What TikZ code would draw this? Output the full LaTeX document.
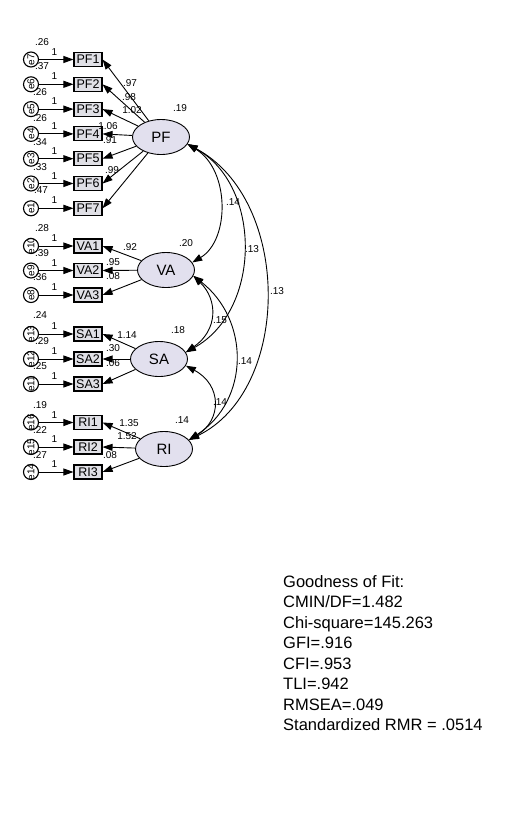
\documentclass[tikz,border=0pt]{standalone}
\usepackage{fontspec}
\setmainfont{Liberation Sans}
\usetikzlibrary{arrows.meta,shapes.geometric}
\definecolor{latfill}{RGB}{226,224,238}
\definecolor{obsfill}{RGB}{224,224,230}
\tikzset{
	obsbox/.style={draw, line width=1.1pt, fill=obsfill, minimum width=28pt, minimum height=14pt, inner sep=0pt, font=\fontsize{12.5}{12.5}\selectfont},
	latent/.style={draw, line width=0.9pt, ellipse, fill=latfill, minimum width=57pt, minimum height=35pt, inner sep=0pt, font=\fontsize{15}{15}\selectfont},
	errc/.style={draw, line width=1.1pt, circle, fill=white, minimum size=15pt, inner sep=0pt, label={[rotate=90, font=\fontsize{10}{10}\selectfont, inner sep=0pt]center:#1}},
	est/.style={font=\fontsize{10}{10}\selectfont, inner sep=0pt},
	load/.style={-{Triangle[length=10pt,width=7pt]}, line width=0.9pt},
	cov/.style={{Triangle[length=10pt,width=7pt]}-{Triangle[length=10pt,width=7pt]}, line width=0.9pt}
}
\begin{document}
\begin{tikzpicture}[x=1pt,y=-1pt]
	\useasboundingbox (0,0) rectangle (508,831);
	% latent factors
	\node[latent] (PF) at (161,137) {PF};
	\node[latent] (VA) at (166,270) {VA};
	\node[latent] (SA) at (159,359) {SA};
	\node[latent] (RI) at (164,449) {RI};
	% indicators with their errors
	\foreach \i/\y/\e in {1/59.5/7, 2/84.3/6, 3/109.1/5, 4/133.9/4, 5/158.7/3, 6/183.5/2, 7/208.3/1} {
		\node[obsbox] (PF\i) at (88,\y) {PF\i};
		\node[errc=e\e] (e\e) at (31,\y) {};
		\draw[load] (e\e) -- (PF\i.west) node[est, pos=0.45, above=4pt] {1};
		\draw[load] (PF) -- (PF\i.east);
	}
	\foreach \i/\y/\e in {1/246/10, 2/270.5/9, 3/295/8} {
		\node[obsbox] (VA\i) at (88,\y) {VA\i};
		\node[errc=e\e] (e\e) at (31,\y) {};
		\draw[load] (e\e) -- (VA\i.west) node[est, pos=0.45, above=4pt] {1};
		\draw[load] (VA) -- (VA\i.east);
	}
	\foreach \i/\y/\e in {1/334/13, 2/359/12, 3/384/11} {
		\node[obsbox] (SA\i) at (88,\y) {SA\i};
		\node[errc=e\e] (e\e) at (31,\y) {};
		\draw[load] (e\e) -- (SA\i.west) node[est, pos=0.45, above=4pt] {1};
		\draw[load] (SA) -- (SA\i.east);
	}
	\foreach \i/\y/\e in {1/422.5/16, 2/447/15, 3/472/14} {
		\node[obsbox] (RI\i) at (88,\y) {RI\i};
		\node[errc=e\e] (e\e) at (31,\y) {};
		\draw[load] (e\e) -- (RI\i.west) node[est, pos=0.45, above=4pt] {1};
		\draw[load] (RI) -- (RI\i.east);
	}
	% covariances
	\draw[cov] (PF.-15) .. controls (230,170) and (230,240) .. (VA.16);
	\draw[cov] (PF.-15) .. controls (262,185) and (262,310) .. (SA.14);
	\draw[cov] (PF.-15) .. controls (292,200) and (292,390) .. (RI.20);
	\draw[cov] (VA.-12) .. controls (218,300) and (218,330) .. (SA.14);
	\draw[cov] (VA.-12) .. controls (250,320) and (250,400) .. (RI.20);
	\draw[cov] (SA.-14) .. controls (222,385) and (222,420) .. (RI.20);
	% estimates
	\node[est] at (180,108) {.19};
	\node[est] at (186,243) {.20};
	\node[est] at (178,330) {.18};
	\node[est] at (182,420) {.14};
	\node[est] at (233,202) {.14};
	\node[est] at (252,249) {.13};
	\node[est] at (277,291) {.13};
	\node[est] at (220,320) {.15};
	\node[est] at (245,361) {.14};
	\node[est] at (220,402) {.14};
	\node[est] at (130,83) {.97};
	\node[est] at (129,97) {.98};
	\node[est] at (132,110) {1.02};
	\node[est] at (108,126) {1.06};
	\node[est] at (110,140) {.91};
	\node[est] at (112,170) {.99};
	\node[est] at (130,247) {.92};
	\node[est] at (113,262) {.95};
	\node[est] at (113,276) {.08};
	\node[est] at (127,335) {1.14};
	\node[est] at (113,348) {.30};
	\node[est] at (113,363) {.06};
	\node[est] at (129,423) {1.35};
	\node[est] at (127,436) {1.52};
	\node[est] at (110,455) {.08};
	\node[est] at (42,42) {.26};
	\node[est] at (42,66) {.37};
	\node[est] at (40,92) {.26};
	\node[est] at (40,118) {.26};
	\node[est] at (40,142) {.34};
	\node[est] at (40,167) {.33};
	\node[est] at (41,190) {.47};
	\node[est] at (42,228) {.28};
	\node[est] at (42,253) {.39};
	\node[est] at (40,277) {.36};
	\node[est] at (40,315) {.24};
	\node[est] at (42,341) {.29};
	\node[est] at (40,366) {.25};
	\node[est] at (40,405) {.19};
	\node[est] at (40,430) {.22};
	\node[est] at (40,455) {.27};
	% fit indices
	\node[anchor=north west, align=left, inner sep=0pt, font=\fontsize{16.5}{20.5}\selectfont] (fit) at (283,575) {Goodness of Fit:\\CMIN/DF=1.482\\Chi-square=145.263\\GFI=.916\\CFI=.953\\TLI=.942\\RMSEA=.049\\Standardized RMR = .0514};
\end{tikzpicture}
\end{document}
